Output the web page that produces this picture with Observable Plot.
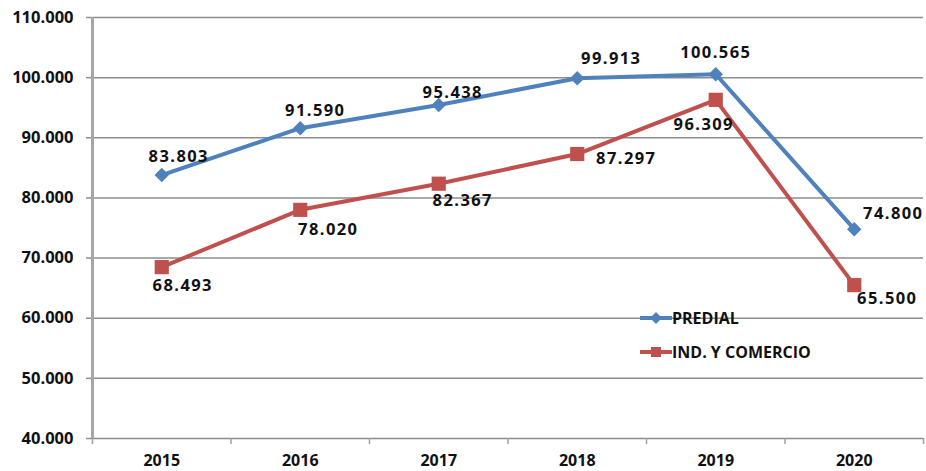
<!DOCTYPE html>
<html>
<head>
<meta charset="utf-8">
<script src="https://cdn.jsdelivr.net/npm/d3@7"></script>
<script src="https://cdn.jsdelivr.net/npm/@observablehq/plot@0.6"></script>
<style>
  html, body { margin: 0; padding: 0; background: #fff; }
  #wrap { position: relative; width: 926px; height: 471px; }
  #wrap svg { font-family: "Open Sans", sans-serif; }
  g[aria-label="text"] text { letter-spacing: 1.4px; }
  .legend { position: absolute; left: 640px; font-family: "Open Sans", sans-serif; font-weight: bold; font-size: 16px; color: #111; display: flex; align-items: center; height: 20px; }
  .legend svg { display: block; }
</style>
</head>
<body>
<div id="wrap"></div>
<script>
// ---- data ----
const years = [2015, 2016, 2017, 2018, 2019, 2020];
const predial = [83803, 91590, 95438, 99913, 100565, 74800];
const industria = [68493, 78020, 82367, 87297, 96309, 65500];
const yTicks = [40000, 50000, 60000, 70000, 80000, 90000, 100000, 110000];
const seriesNames = ["PREDIAL", "IND. Y COMERCIO"];

// ---- layout constants (label placement, px) ----
const predialDx = [17, 15, 14, 34, 0, 39];
const predialDy = [-18, -18, -12, -19, -22, -15];
const industriaDx = [21, 28, 24, 49, -12, 33];
const industriaDy = [19, 20, 17, 5, 25, 14];

const blue = "#4F81BD";
const red = "#C0504D";
const fmt = v => d3.format(",")(v).replace(/,/g, ".");

const idx = years.map((_, i) => i);
const rowsP = idx.map(i => ({i, v: predial[i], dx: predialDx[i], dy: predialDy[i]}));
const rowsI = idx.map(i => ({i, v: industria[i], dx: industriaDx[i], dy: industriaDy[i]}));
const bounds = d3.range(-0.5, years.length, 1);

const labelMarks = (rows) => rows.map(r =>
  Plot.text([r], {x: "i", y: "v", text: d => fmt(d.v), dx: r.dx, dy: r.dy,
    fontSize: 16.5, fontWeight: "bold", fill: "#111", lineAnchor: "middle"})
);

const chart = Plot.plot({
  width: 926,
  height: 471,
  marginLeft: 92,
  marginRight: 3,
  marginTop: 17,
  marginBottom: 33,
  x: {domain: [-0.5, years.length - 0.5]},
  y: {domain: [40000, 110000]},
  marks: [
    Plot.gridY({ticks: yTicks, stroke: "#8c8c8c", strokeOpacity: 1, strokeWidth: 1.5}),
    Plot.axisY({ticks: yTicks, tickSize: 6, tickPadding: 13, stroke: "#8c8c8c", strokeWidth: 1.5,
      tickFormat: fmt, fontSize: 16.5, fontWeight: "bold", fill: "#111", label: null}),
    Plot.axisX({ticks: bounds, tickSize: 6, tickFormat: () => "", stroke: "#a0a0a0", strokeWidth: 1.5, label: null}),
    Plot.axisX({ticks: idx, tickSize: 0, tickPadding: 16, tickFormat: i => String(years[i]),
      fontSize: 16, fontWeight: "bold", fill: "#111", label: null}),
    Plot.ruleX([-0.5], {y1: 40000, y2: 110000, stroke: "#a6a6a6", strokeWidth: 3}),
    Plot.line(rowsP, {x: "i", y: "v", stroke: blue, strokeWidth: 4}),
    Plot.line(rowsI, {x: "i", y: "v", stroke: red, strokeWidth: 4}),
    Plot.dot(rowsP, {x: "i", y: "v", symbol: "diamond2", r: 6.5, fill: blue, stroke: null}),
    Plot.dot(rowsI, {x: "i", y: "v", symbol: "square", r: 8, fill: red, stroke: null}),
    ...labelMarks(rowsP),
    ...labelMarks(rowsI)
  ]
});
const wrap = document.getElementById("wrap");
wrap.appendChild(chart);

// ---- legend ----
const legendItems = [
  {name: seriesNames[0], color: blue, symbol: "diamond", top: 308},
  {name: seriesNames[1], color: red, symbol: "square", top: 342}
];
for (const it of legendItems) {
  const div = document.createElement("div");
  div.className = "legend";
  div.style.top = it.top + "px";
  const marker = it.symbol === "diamond"
    ? `<path d="M16 1 L22 7 L16 13 L10 7 Z" fill="${it.color}"/>`
    : `<rect x="11" y="2" width="10" height="10" fill="${it.color}"/>`;
  div.innerHTML = `<svg width="32" height="14"><line x1="0" y1="7" x2="32" y2="7" stroke="${it.color}" stroke-width="4"/>${marker}</svg><span>${it.name}</span>`;
  wrap.appendChild(div);
}
</script>
</body>
</html>
